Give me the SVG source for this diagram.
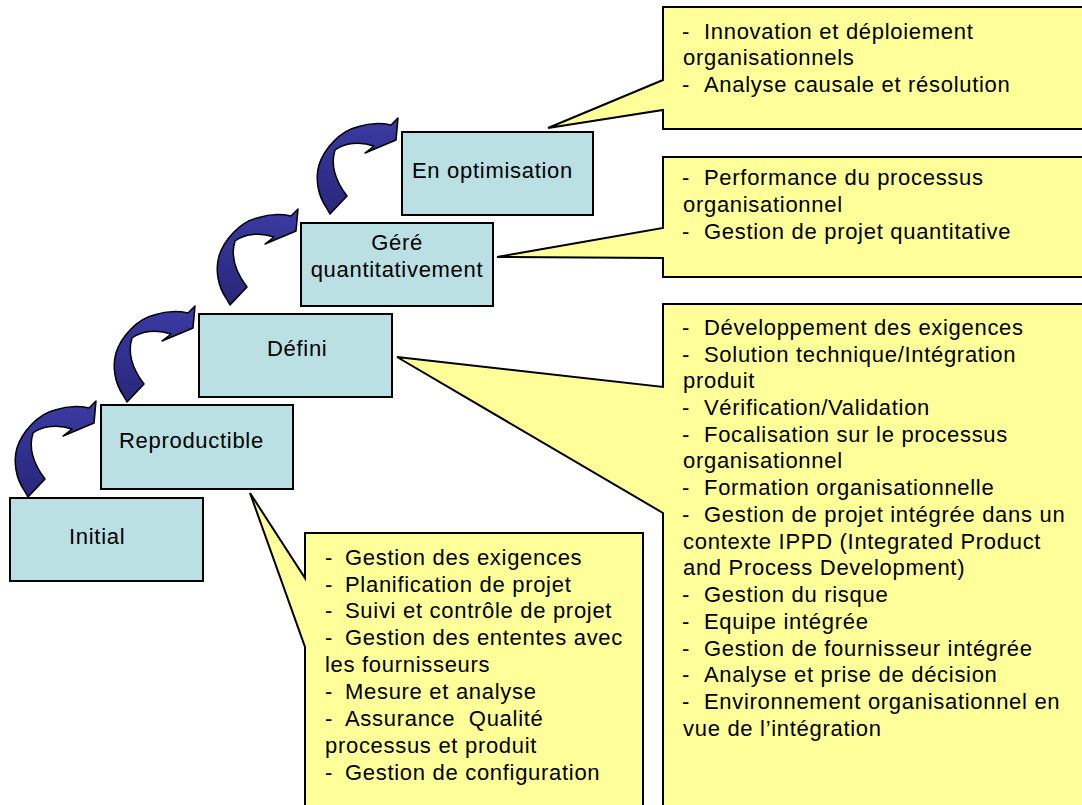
<svg xmlns="http://www.w3.org/2000/svg" xmlns:xlink="http://www.w3.org/1999/xlink" width="1082" height="805" viewBox="0 0 1082 805">
<style>
.box{fill:#bbe0e3;stroke:#000;stroke-width:2}
.call{fill:#ffff99;stroke:#000;stroke-width:2;stroke-linejoin:miter}
.t{font-family:"Liberation Sans",Arial,sans-serif;font-size:22px;fill:#000;letter-spacing:0.7px}
.arr{fill:url(#ag);stroke:#000;stroke-width:1.5;stroke-linejoin:round}
</style>
<defs>
<linearGradient id="ag" x1="0" y1="0" x2="0" y2="1">
<stop offset="0" stop-color="#3b3ba3"/>
<stop offset="1" stop-color="#27277a"/>
</linearGradient>
<path id="curl" d="M28,107 L24,100 C16,88 13,72 17,58 C22,42 38,24 55,20 C67,16 80,16 89,18 L96,11 L94,33 L63,46 L72,39 C58,34 42,36 33,43 C29,56 32,72 45,89 Z"/>
</defs>
<rect width="1082" height="805" fill="#fff"/>

<g id="callout-optimisation">
<path class="call" d="M663,7 H1090 V129 H663 V110 L548,128 L663,80 Z"/>
<text class="t"><tspan x="682" y="39">-</tspan><tspan x="704" y="39">Innovation et déploiement</tspan><tspan x="683" y="65">organisationnels</tspan><tspan x="682" y="92">-</tspan><tspan x="704" y="92">Analyse causale et résolution</tspan></text>
</g>

<g id="callout-gere">
<path class="call" d="M663,157 H1090 V277 H663 V258 L497,257 L663,228 Z"/>
<text class="t"><tspan x="682" y="185">-</tspan><tspan x="704" y="185">Performance du processus</tspan><tspan x="683" y="212">organisationnel</tspan><tspan x="682" y="239">-</tspan><tspan x="704" y="239">Gestion de projet quantitative</tspan></text>
</g>

<g id="callout-defini">
<path class="call" d="M663,304 H1090 V810 H663 V513 L397,357 L663,387 Z"/>
<text class="t">
<tspan x="682" y="335">-</tspan><tspan x="704" y="335">Développement des exigences</tspan>
<tspan x="682" y="362">-</tspan><tspan x="704" y="362">Solution technique/Intégration</tspan>
<tspan x="683" y="388">produit</tspan>
<tspan x="682" y="415">-</tspan><tspan x="704" y="415">Vérification/Validation</tspan>
<tspan x="682" y="442">-</tspan><tspan x="704" y="442">Focalisation sur le processus</tspan>
<tspan x="683" y="468">organisationnel</tspan>
<tspan x="682" y="495">-</tspan><tspan x="704" y="495">Formation organisationnelle</tspan>
<tspan x="682" y="522">-</tspan><tspan x="704" y="522">Gestion de projet intégrée dans un</tspan>
<tspan x="683" y="549">contexte IPPD (Integrated Product</tspan>
<tspan x="683" y="575">and Process Development)</tspan>
<tspan x="682" y="602">-</tspan><tspan x="704" y="602">Gestion du risque</tspan>
<tspan x="682" y="629">-</tspan><tspan x="704" y="629">Equipe intégrée</tspan>
<tspan x="682" y="656">-</tspan><tspan x="704" y="656">Gestion de fournisseur intégrée</tspan>
<tspan x="682" y="682">-</tspan><tspan x="704" y="682">Analyse et prise de décision</tspan>
<tspan x="682" y="709">-</tspan><tspan x="704" y="709">Environnement organisationnel en</tspan>
<tspan x="683" y="736">vue de l’intégration</tspan>
</text>
</g>

<g id="callout-reproductible">
<path class="call" d="M305,533 H643 V810 H305 V647 L250,493 L305,578 Z"/>
<text class="t">
<tspan x="325" y="565">-</tspan><tspan x="345" y="565">Gestion des exigences</tspan>
<tspan x="325" y="592">-</tspan><tspan x="345" y="592">Planification de projet</tspan>
<tspan x="325" y="618">-</tspan><tspan x="345" y="618">Suivi et contrôle de projet</tspan>
<tspan x="325" y="645">-</tspan><tspan x="345" y="645">Gestion des ententes avec</tspan>
<tspan x="325" y="672">les fournisseurs</tspan>
<tspan x="325" y="699">-</tspan><tspan x="345" y="699">Mesure et analyse</tspan>
<tspan x="325" y="726">-</tspan><tspan x="345" y="726">Assurance&#160; Qualité</tspan>
<tspan x="325" y="753">processus et produit</tspan>
<tspan x="325" y="780">-</tspan><tspan x="345" y="780">Gestion de configuration</tspan>
</text>
</g>

<g id="node-initial">
<rect class="box" x="10" y="498" width="193" height="83"/>
<text class="t" x="69" y="544">Initial</text>
</g>
<g id="node-reproductible">
<rect class="box" x="101" y="405" width="192" height="84"/>
<text class="t" x="119" y="448">Reproductible</text>
</g>
<g id="node-defini">
<rect class="box" x="199" y="314" width="193" height="83"/>
<text class="t" x="267" y="356">Défini</text>
</g>
<g id="node-gere">
<rect class="box" x="301" y="223" width="192" height="83"/>
<text class="t" x="397" y="250" text-anchor="middle">Géré</text>
<text class="t" x="397" y="277" text-anchor="middle">quantitativement</text>
</g>
<g id="node-optimisation">
<rect class="box" x="402" y="132" width="191" height="83"/>
<text class="t" x="412" y="178">En optimisation</text>
</g>

<g id="connectors">
<use xlink:href="#curl" href="#curl" class="arr" transform="translate(0,390)"/>
<use xlink:href="#curl" href="#curl" class="arr" transform="translate(99,295)"/>
<use xlink:href="#curl" href="#curl" class="arr" transform="translate(202,198)"/>
<use xlink:href="#curl" href="#curl" class="arr" transform="translate(302,107)"/>
</g>
</svg>
